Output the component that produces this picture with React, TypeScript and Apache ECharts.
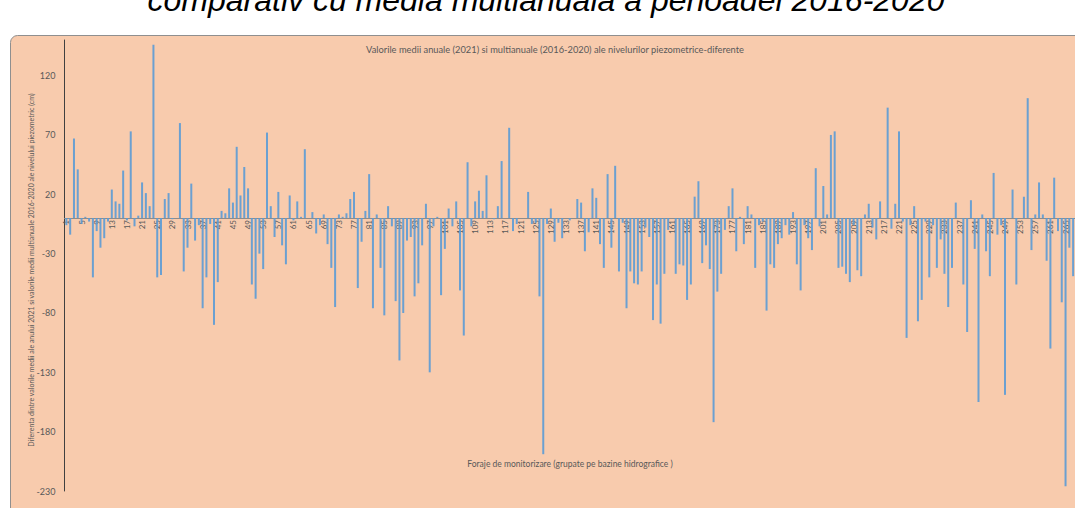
import React, { useEffect, useRef } from "react";
import * as echarts from "echarts";

const values: number[] = [
  -6, -14, 67, 41, -5, 1, -3, -50, -11, -25, -17, -3, 24, 14, 12, 40, -2, 73, -7, 2,
  30, 21, 10, 146, -50, -48, 16, 21, -1, 0, 80, -45, -25, 29, -19, -6, -76, -50, -5, -90,
  -54, 6, 4, 25, 13, 60, 19, 43, 25, -56, -68, -30, -43, 72, 10, -16, 22, -23, -39, 19,
  -2, 14, 1, 58, 0, 5, -13, -6, 3, -22, -42, -75, 3, 1, 4, 16, 22, -59, -20, 6,
  37, -76, 3, -42, -82, 10, -7, -70, -120, -80, -19, -16, -66, -55, -23, 12, -130, -7, 1, -65,
  -26, 8, -7, 14, -61, -99, 47, -7, 14, 23, 6, 36, 0, -1, 10, 48, 0, 76, -11, -5,
  0, 0, 22, -5, -4, -66, -199, -5, 8, -20, -4, -17, 0, -2, 0, 16, 13, -28, -12, 25,
  17, -22, -42, 37, -25, 44, -45, -4, -76, -45, -55, -56, -45, -8, -16, -86, -56, -89, -47, -10,
  0, -47, -39, -40, -69, -56, 18, 31, -38, -23, -43, -172, -62, -47, -10, 10, 25, -28, 1, -22,
  10, 3, -42, -6, -3, -78, -39, -42, -22, -17, -6, -14, 5, -39, -61, -6, -17, -27, 42, -7,
  27, 3, 70, 73, -42, -41, -47, -54, -6, -44, -49, 3, 12, -8, -18, 14, 0, 93, -9, 12,
  73, -3, -101, -6, 10, -87, -69, -3, -50, -6, -42, -18, -47, -75, -42, 13, 0, -56, -96, 15,
  -26, -155, 3, -28, -49, 38, -14, -6, -149, 0, 24, -56, 0, 18, 101, -27, 3, 30, 3, -36,
  -110, 34, -11, -71, -226, -25, -49,
];

const categories: string[] = values.map((_, i) => String(i + 1));

const yMin = -230;
const yMax = 150;
const yStep = 50;

const pageTitle = "comparativ cu media multianuală a perioadei 2016-2020";
const chartTitle =
  "Valorile medii anuale (2021) si multianuale (2016-2020) ale nivelurilor piezometrice-diferente";
const yName =
  "Diferenta dintre valorile medii ale anului 2021 si valorile medii multianuale 2016-2020 ale nivelului piezometric (cm)";
const xName = "Foraje de monitorizare (grupate pe bazine hidrografice )";

export default function App() {
  const ref = useRef<HTMLDivElement>(null);
  useEffect(() => {
    if (!ref.current) return;
    const chart = echarts.init(ref.current, null, { renderer: "svg" });
    const gridTop = 40;
    const gridBottom = 17;
    const plotH = 508 - gridTop - gridBottom;
    const zeroOffset = -(plotH * (0 - yMin)) / (yMax - yMin);
    chart.setOption({
      animation: false,
      backgroundColor: "#ffffff",
      textStyle: { fontFamily: "Lato, 'Liberation Sans', sans-serif" },
      graphic: [
        {
          type: "rect",
          z: -10,
          silent: true,
          shape: { x: 10.5, y: 35.5, width: 1100, height: 500, r: 7 },
          style: { fill: "#F8CBAD", stroke: "#8f8f8f", lineWidth: 1 },
        },
        {
          type: "text",
          x: 546,
          y: 16,
          style: {
            text: pageTitle,
            align: "center",
            verticalAlign: "bottom",
            font: "italic 32px 'Liberation Sans', Arial, sans-serif",
            fill: "#000000",
          },
        },
        {
          type: "text",
          x: 555,
          y: 49,
          style: {
            text: chartTitle,
            align: "center",
            verticalAlign: "middle",
            font: "9.3px Lato, sans-serif",
            fill: "#595959",
          },
        },
        {
          type: "text",
          x: 570,
          y: 464,
          style: {
            text: xName,
            align: "center",
            verticalAlign: "middle",
            font: "8.5px Lato, sans-serif",
            fill: "#595959",
          },
        },
        {
          type: "text",
          x: 31,
          y: 270,
          rotation: Math.PI / 2,
          style: {
            text: yName,
            align: "center",
            verticalAlign: "middle",
            font: "7px Lato, sans-serif",
            fill: "#595959",
          },
        },
      ],
      grid: { left: 64.5, right: -1.7, top: gridTop, bottom: gridBottom, containLabel: false },
      xAxis: {
        type: "category",
        data: categories,
        boundaryGap: true,
        position: "bottom",
        offset: zeroOffset,
        axisLine: { show: true, onZero: false, lineStyle: { color: "#8c8c8c", width: 1 } },
        axisTick: { show: false },
        axisLabel: {
          interval: 3,
          rotate: 90,
          margin: 2,
          fontSize: 8,
          color: "#595959",
          fontFamily: "Lato, sans-serif",
        },
        splitLine: { show: false },
      },
      yAxis: {
        type: "value",
        min: yMin,
        max: yMax,
        interval: yStep,
        axisLine: { show: true, lineStyle: { color: "#404040", width: 1 } },
        axisTick: { show: false },
        axisLabel: {
          showMaxLabel: false,
          margin: 9,
          fontSize: 9,
          color: "#595959",
          fontFamily: "Lato, sans-serif",
        },
        splitLine: { show: false },
      },
      series: [
        {
          type: "bar",
          data: values,
          barWidth: 2,
          itemStyle: { color: "#5B9BD5", opacity: 0.9 },
        },
      ],
    });
    return () => chart.dispose();
  }, []);
  return (
    <div
      ref={ref}
      style={{ position: "absolute", left: 0, top: 0, width: 1075, height: 508 }}
    />
  );
}
